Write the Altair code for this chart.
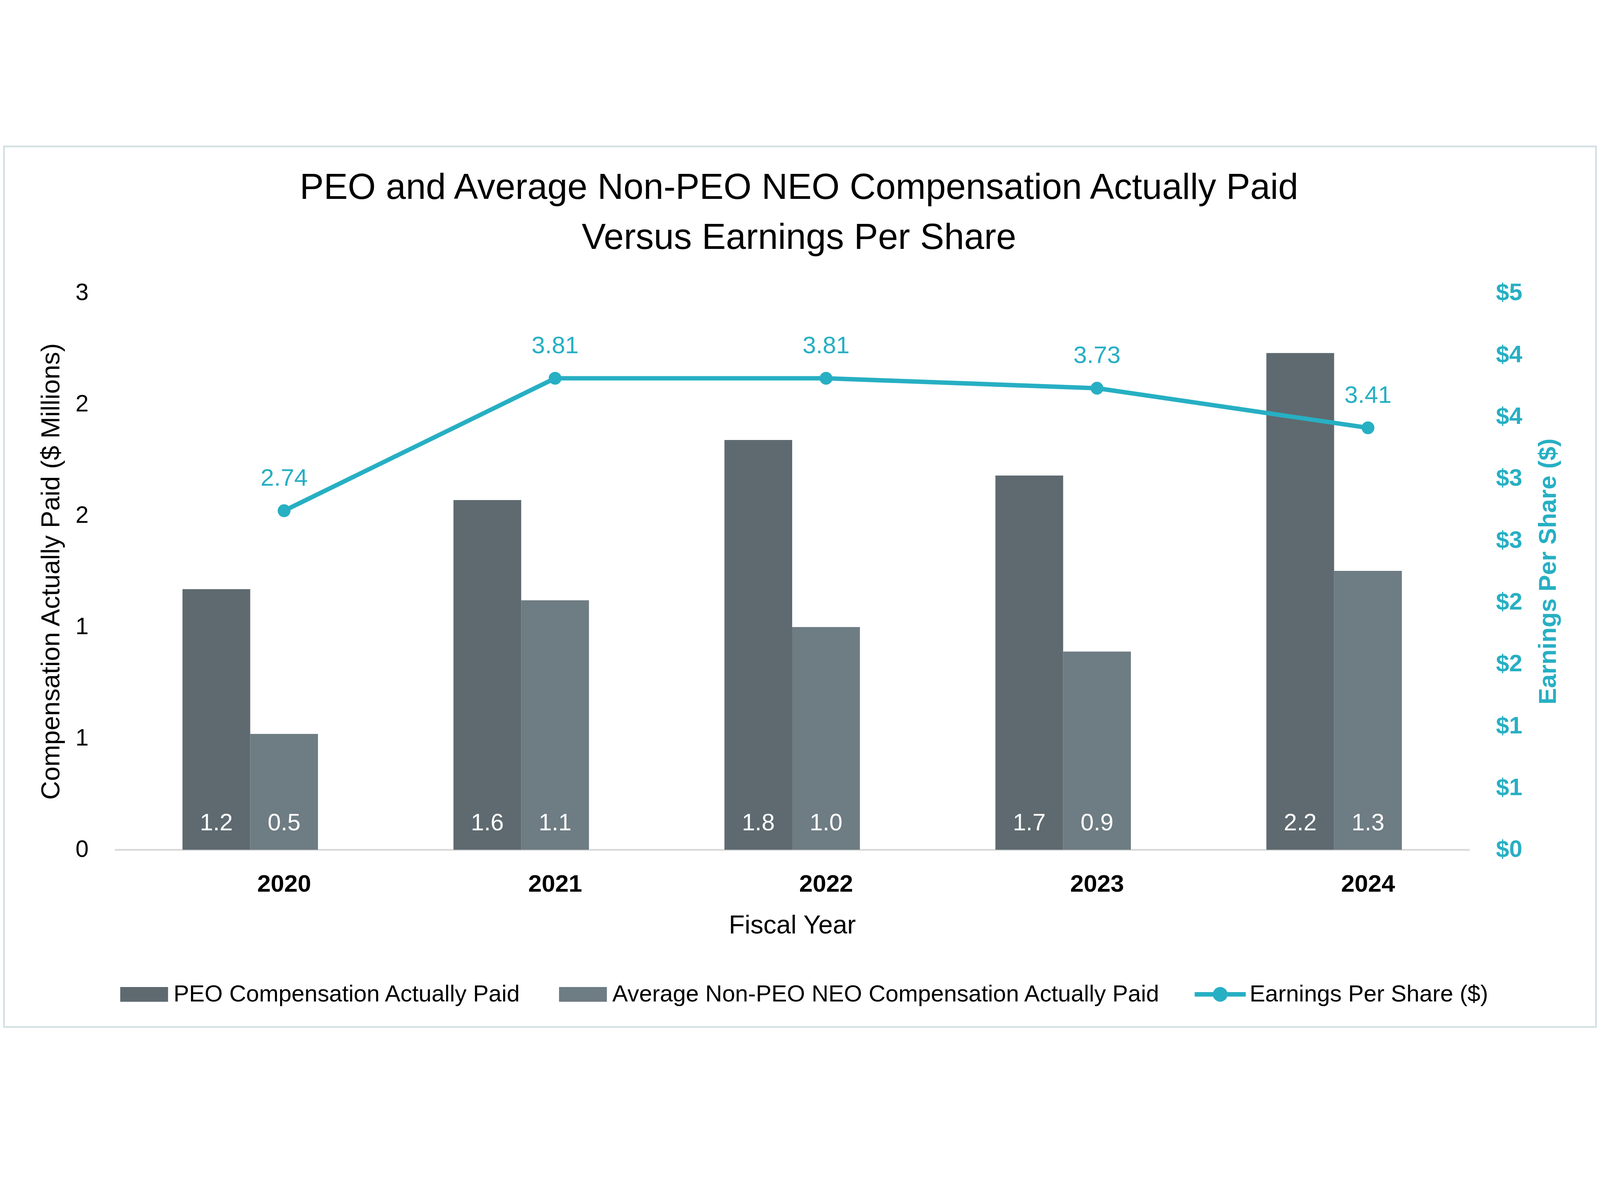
import math
import altair as alt
import pandas as pd

# ---------------- data ----------------
years = ["2020", "2021", "2022", "2023", "2024"]
peo_cap = [1.17, 1.57, 1.84, 1.68, 2.23]
neo_cap = [0.52, 1.12, 1.00, 0.89, 1.252]
eps = [2.74, 3.81, 3.81, 3.73, 3.41]

series_names = [
    "PEO Compensation Actually Paid",
    "Average Non-PEO NEO Compensation Actually Paid",
    "Earnings Per Share ($)",
]
left_ticks = [0, 0.5, 1, 1.5, 2, 2.5]
right_ticks = [0, 0.5, 1, 1.5, 2, 2.5, 3, 3.5, 4, 4.5]

title_lines = [
    "PEO and Average Non-PEO NEO Compensation Actually Paid",
    "Versus Earnings Per Share",
]

# ---------------- style ----------------
FONT = "Liberation Sans"
C_PEO = "#5E6A70"
C_NEO = "#6E7C83"
TEAL = "#27AFC3"
FRAME = "#D3E0E4"
W, H = 4588, 1885

bars_df = pd.DataFrame({
    "year": years * 2,
    "series": [series_names[0]] * len(years) + [series_names[1]] * len(years),
    "value": peo_cap + neo_cap,
})
eps_df = pd.DataFrame({"year": years, "eps": eps, "series": [series_names[2]] * len(years)})
frame_df = pd.DataFrame({"k": [0]})

x_scale = alt.Scale(type="band", domain=years, paddingInner=0.5, paddingOuter=0.25)
x_axis = alt.Axis(
    title="Fiscal Year", labelAngle=0, labelOffset=115, labelLimit=600,
    labelFontSize=82, labelFontWeight="bold", labelColor="black", labelPadding=76,
    titleFontSize=88, titleFontWeight="normal", titleColor="black", titlePadding=56,
    ticks=False, tickSize=0, grid=False, domainColor="#D9D9D9", domainWidth=6,
)
xoff = alt.XOffset("series:N", scale=alt.Scale(domain=series_names[:2], paddingInner=0, paddingOuter=0))

left_axis = alt.Axis(
    values=left_ticks, format=".0f", grid=False, domain=False, ticks=False, tickSize=0,
    labelFontSize=80, labelColor="black", labelPadding=89,
    title="Compensation Actually Paid ($ Millions)", titleFontSize=88,
    titleFontWeight="normal", titleColor="black", titlePadding=36,
)
right_axis = alt.Axis(
    orient="right", values=right_ticks, format="$.0f", grid=False, domain=False,
    ticks=False, tickSize=0,
    labelFontSize=80, labelColor=TEAL, labelFontWeight="bold", labelPadding=89,
    title="Earnings Per Share ($)", titleFontSize=84, titleFontWeight="bold",
    titleColor=TEAL, titleAngle=270, titlePadding=131,
)
left_scale = alt.Scale(domain=[0, 2.5], nice=False, zero=True)
right_scale = alt.Scale(domain=[0, 4.5], nice=False, zero=True)

# legend symbol shapes (unit = sqrt(symbolSize)/2)
rect_path = "M-3.24,-1H3.24V1H-3.24Z"
circle_pts = " ".join(
    f"L{math.cos(2 * math.pi * k / 24):.3f},{math.sin(2 * math.pi * k / 24):.3f}" for k in range(1, 24)
)
line_path = "M-3.46,-0.3H3.46V0.3H-3.46Z M1,0 " + circle_pts + " Z"

common_legend = dict(
    orient="none", direction="horizontal", title=None,
    labelFontSize=79, labelColor="black", labelLimit=3000,
    symbolSize=2500, symbolStrokeWidth=0, labelOffset=60, columnPadding=128,
)
legend_bars = alt.Legend(legendX=60, legendY=alt.ExprRef(expr="height + 450"), symbolType=rect_path, **common_legend)
legend_eps = alt.Legend(legendX=alt.ExprRef(expr="width - 884"), legendY=alt.ExprRef(expr="height + 450"),
                        symbolType=line_path, **common_legend)

# thin light frame around the whole figure (decoration), tied to the plot edges
frame = alt.Chart(frame_df).mark_rect(fillOpacity=0, stroke=FRAME, strokeWidth=6).encode(
    x=alt.value(-375), x2=alt.value({"expr": "width + 428"}),
    y=alt.value(-496), y2=alt.value({"expr": "height + 600"}),
)

bars = alt.Chart(bars_df).mark_bar().encode(
    x=alt.X("year:N", scale=x_scale, axis=x_axis),
    xOffset=xoff,
    y=alt.Y("value:Q", scale=left_scale, axis=left_axis),
    color=alt.Color("series:N", scale=alt.Scale(domain=series_names[:2], range=[C_PEO, C_NEO]), legend=legend_bars),
)
bar_text = alt.Chart(bars_df).mark_text(dy=-90, color="white", fontSize=80, baseline="middle").encode(
    x=alt.X("year:N", scale=x_scale, axis=x_axis),
    xOffset=xoff,
    y=alt.Y(datum=0, scale=left_scale, axis=left_axis),
    text=alt.Text("value:Q", format=".1f"),
)
left_layer = alt.layer(frame, bars, bar_text)

x_line = alt.X("year:N", scale=x_scale, axis=x_axis, bandPosition=0.75)
line = alt.Chart(eps_df).mark_line(color=TEAL, strokeWidth=15).encode(
    x=x_line, y=alt.Y("eps:Q", scale=right_scale, axis=right_axis),
)
points = alt.Chart(eps_df).mark_circle(size=1886, opacity=1).encode(
    x=x_line, y=alt.Y("eps:Q", scale=right_scale, axis=right_axis),
    color=alt.Color("series:N", scale=alt.Scale(domain=[series_names[2]], range=[TEAL]), legend=legend_eps),
)
eps_text = alt.Chart(eps_df).mark_text(dy=-110, color=TEAL, fontSize=82, baseline="middle").encode(
    x=x_line, y=alt.Y("eps:Q", scale=right_scale, axis=right_axis),
    text=alt.Text("eps:Q", format=".2f"),
)
right_layer = alt.layer(line, points, eps_text)

# whole chart = 5397 x 2987 (page minus 8px margins); plot area comes out 4588 x 1885
chart = alt.layer(left_layer, right_layer).resolve_scale(y="independent", color="independent").properties(
    width=W + 378 + 431, height=H + 499 + 603,
    autosize=alt.AutoSizeParams(type="fit", contains="padding"),
    padding=0,
    background="white",
    title=alt.TitleParams(
        text=title_lines, fontSize=122, fontWeight="normal", color="black",
        lineHeight=170, anchor="middle", frame="group", offset=-498,
        baseline="bottom", dx=23,
    ),
).configure(font=FONT).configure_view(stroke="transparent")

chart.save("out.html", embed_options={"renderer": "svg", "actions": False})
